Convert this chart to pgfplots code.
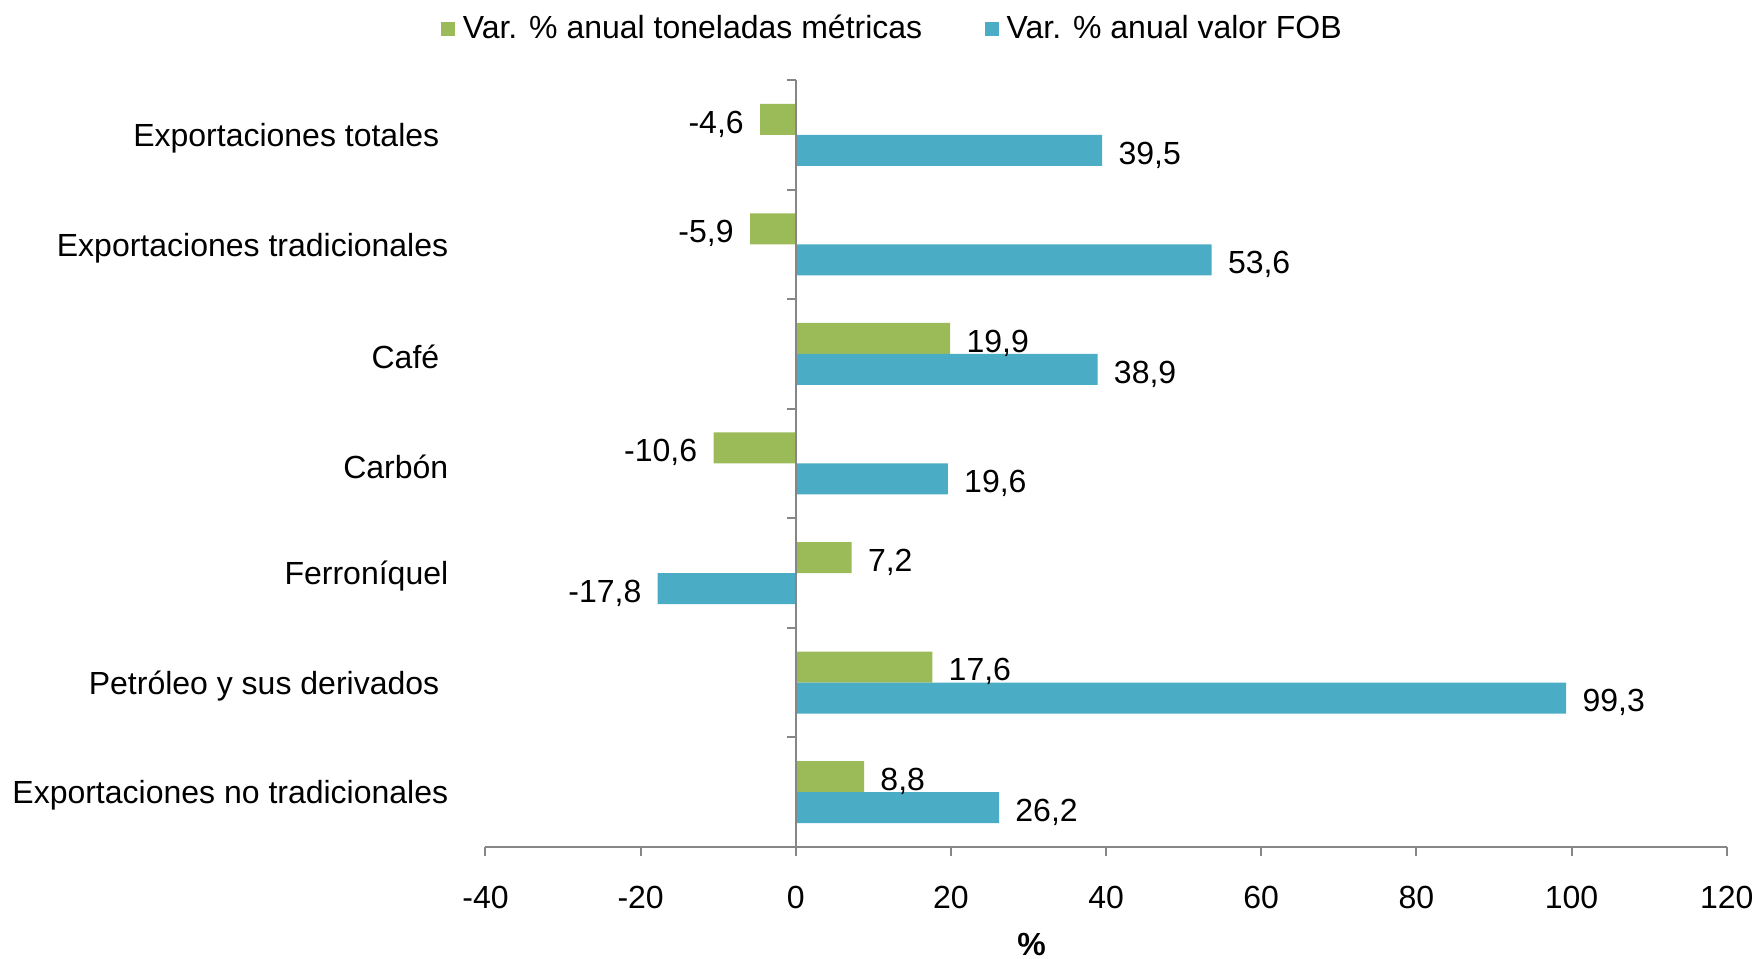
\documentclass[border=0pt]{standalone}
\usepackage{pgfplots}
\pgfplotsset{compat=1.18}
\usepackage{fontspec}
\setmainfont{Liberation Sans}
\definecolor{cgreen}{RGB}{155,187,89}
\definecolor{cblue}{RGB}{75,172,198}
\definecolor{axgray}{RGB}{134,134,134}
\newcommand{\fs}{\fontsize{16}{19}\selectfont}
\begin{document}
\fs
\begin{tikzpicture}
\path[use as bounding box] (0,0) rectangle (879pt,479.5pt);
\begin{axis}[
  at={(242.75pt,56pt)}, anchor=south west,
  scale only axis, width=620.6pt, height=383.5pt,
  xmin=-40, xmax=120, ymin=-0.5, ymax=6.5,
  clip=false,
  xbar, bar width=15.5pt,
  axis x line*=bottom, axis y line*=left,
  y axis line style={draw=none},
  x axis line style={axgray, line width=1pt},
  xtick={-40,-20,...,120},
  xtick style={axgray, line width=1pt},
  tick align=outside, major tick length=4.5pt,
  ytick={0,1,2,3,4,5,6},
  ytick style={draw=none},
  yticklabels={Exportaciones no tradicionales, Petróleo y sus derivados\rule{4.5pt}{0pt}, Ferroníquel, Carbón, Café\rule{4.5pt}{0pt}, Exportaciones tradicionales, Exportaciones totales\rule{4.5pt}{0pt}},
  yticklabel style={anchor=east, xshift=-8.6pt, yshift=-1.7pt, font=\fs},
  xticklabel style={font=\fs, yshift=-9.6pt},
  /pgf/number format/assume math mode=true,
  xlabel={\textbf{\%}},
  xlabel style={at={(axis description cs:0.44,-0.127)}, anchor=center, font=\fs},
  nodes near coords={\pgfmathprintnumber[fixed,fixed zerofill,precision=1,use comma,assume math mode=true]{\pgfplotspointmeta}},
  nodes near coords align={horizontal},
  every node near coord/.append style={font=\fs, black, inner sep=0pt, inner xsep=8pt, yshift=-2.3pt},
  point meta=x,
  legend columns=2,
  legend style={draw=none, at={(axis description cs:0.3285,1.066)}, anchor=center,
    font=\fs,
    /tikz/every even column/.append style={column sep=29.2pt}},
  legend image code/.code={\fill[#1, draw=none] (0pt,-3.5pt) rectangle (7pt,3.5pt);\path (9pt,0pt);},
]
\addplot[fill=cgreen, draw=none, bar shift=7.75pt] coordinates {
(8.8,0) (17.6,1) (7.2,2) (-10.6,3) (19.9,4) (-5.9,5) (-4.6,6)};
\addplot[fill=cblue, draw=none, bar shift=-7.75pt] coordinates {
(26.2,0) (99.3,1) (-17.8,2) (19.6,3) (38.9,4) (53.6,5) (39.5,6)};
\legend{Var. \% anual toneladas métricas, Var. \% anual valor FOB}
\draw[axgray, line width=1pt] (axis cs:0,-0.5) -- (axis cs:0,6.5);
\pgfplotsinvokeforeach{-0.5,0.5,1.5,2.5,3.5,4.5,5.5,6.5}{
  \draw[axgray, line width=1pt] (axis cs:0,#1) -- ++(-4.5pt,0pt);
}
\end{axis}
\end{tikzpicture}
\end{document}
